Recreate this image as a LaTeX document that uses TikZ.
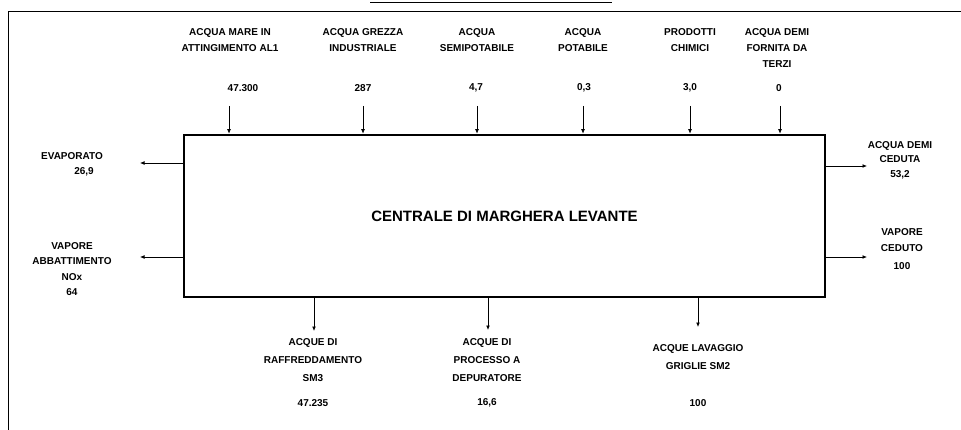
\documentclass[tikz,border=0pt]{standalone}
\usepackage{fontspec}
\setmainfont{Liberation Sans}
\usetikzlibrary{arrows.meta, positioning}
\tikzset{>={Latex[length=4.5pt,width=3.8pt]},
    flow/.style={->,line width=0.7pt},
    plant/.style={draw,line width=2.6pt,minimum width=641pt,minimum height=162pt,
        font=\bfseries\fontsize{15}{17}\selectfont},
    textnode/.style={align=center,inner sep=0pt,font=\bfseries\fontsize{10}{16}\selectfont},
    lowtext/.style={textnode,font=\bfseries\fontsize{10}{18}\selectfont},
    sheet/.style={line width=1pt}}

\begin{document}
\begin{tikzpicture}[x=1pt,y=-1pt]
\useasboundingbox (0,0) rectangle (961,430);
% sheet frame and title rule
\coordinate (fa) at (8,430);
\coordinate (fb) at (8,12);
\coordinate (fc) at (961,12);
\draw[sheet] (fa) -- (fb) -- (fc);
\coordinate (ta) at (370,3);
\coordinate (tb) at (612,3);
\draw[sheet] (ta) -- (tb);

\node[plant] (box) at (504.5,216) {CENTRALE DI MARGHERA LEVANTE};

% inputs
\node[textnode,anchor=north] (mare) at (230,28) {ACQUA MARE IN\\ATTINGIMENTO AL1};
\node[textnode,anchor=north] (grezza) at (363,28) {ACQUA GREZZA\\INDUSTRIALE};
\node[textnode,anchor=north] (semi) at (477,28) {ACQUA\\SEMIPOTABILE};
\node[textnode,anchor=north] (pot) at (583,28) {ACQUA\\POTABILE};
\node[textnode,anchor=north] (chim) at (690,28) {PRODOTTI\\CHIMICI};
\node[textnode,anchor=north] (terzi) at (777,28) {ACQUA DEMI\\FORNITA DA\\TERZI};

\node[textnode] (qmare) at (243,88) {47.300};
\node[textnode] (qgrezza) at (363,88) {287};
\node[textnode] (qsemi) at (476,88) {4,7};
\node[textnode] (qpot) at (584,88) {0,3};
\node[textnode] (qchim) at (690,88) {3,0};
\node[textnode] (qterzi) at (779,88) {0};

\coordinate (smare) at (229,106);
\coordinate (sgrezza) at (363,106);
\coordinate (ssemi) at (477,106);
\coordinate (spot) at (583,106);
\coordinate (schim) at (690,106);
\coordinate (sterzi) at (780,106);
\path
    (smare)   edge [flow] (smare |- box.north)
    (sgrezza) edge [flow] (sgrezza |- box.north)
    (ssemi)   edge [flow] (ssemi |- box.north)
    (spot)    edge [flow] (spot |- box.north)
    (schim)   edge [flow] (schim |- box.north)
    (sterzi)  edge [flow] (sterzi |- box.north);

% outputs, left
\node[textnode,anchor=north] (evap) at (72,152) {EVAPORATO};
\node[textnode] (qevap) at (84,172) {26,9};
\node[textnode,anchor=north,font=\bfseries\fontsize{10}{15.5}\selectfont] (nox) at (72,242) {VAPORE\\ABBATTIMENTO\\NOx\\64};
\coordinate (eevap) at (140,163);
\coordinate (enox) at (140,257);
\path
    (eevap -| box.west) edge [flow] (eevap)
    (enox -| box.west)  edge [flow] (enox);

% outputs, right
\node[textnode,anchor=north,font=\bfseries\fontsize{10}{14.5}\selectfont] (demi) at (900,141) {ACQUA DEMI\\CEDUTA\\53,2};
\node[textnode,anchor=north] (vap) at (902,228) {VAPORE\\CEDUTO};
\node[textnode] (qvap) at (902,266) {100};
\coordinate (edemi) at (867,166);
\coordinate (evap2) at (867,257);
\path
    (edemi -| box.east) edge [flow] (edemi)
    (evap2 -| box.east) edge [flow] (evap2);

% outputs, bottom
\node[lowtext,anchor=north] (raff) at (313,338) {ACQUE DI\\RAFFREDDAMENTO\\SM3};
\node[lowtext,anchor=north] (dep) at (487,338) {ACQUE DI\\PROCESSO A\\DEPURATORE};
\node[lowtext,anchor=north] (griglie) at (698,344) {ACQUE LAVAGGIO\\GRIGLIE SM2};
\node[textnode] (qraff) at (313,403) {47.235};
\node[textnode] (qdep) at (487,403) {16,6};
\node[textnode] (qgriglie) at (698,403) {100};
\coordinate (eraff) at (314,331);
\coordinate (edep) at (488,330);
\coordinate (egriglie) at (698,327);
\path
    (box.south -| eraff)    edge [flow] (eraff)
    (box.south -| edep)     edge [flow] (edep)
    (box.south -| egriglie) edge [flow] (egriglie);
\end{tikzpicture}
\end{document}
